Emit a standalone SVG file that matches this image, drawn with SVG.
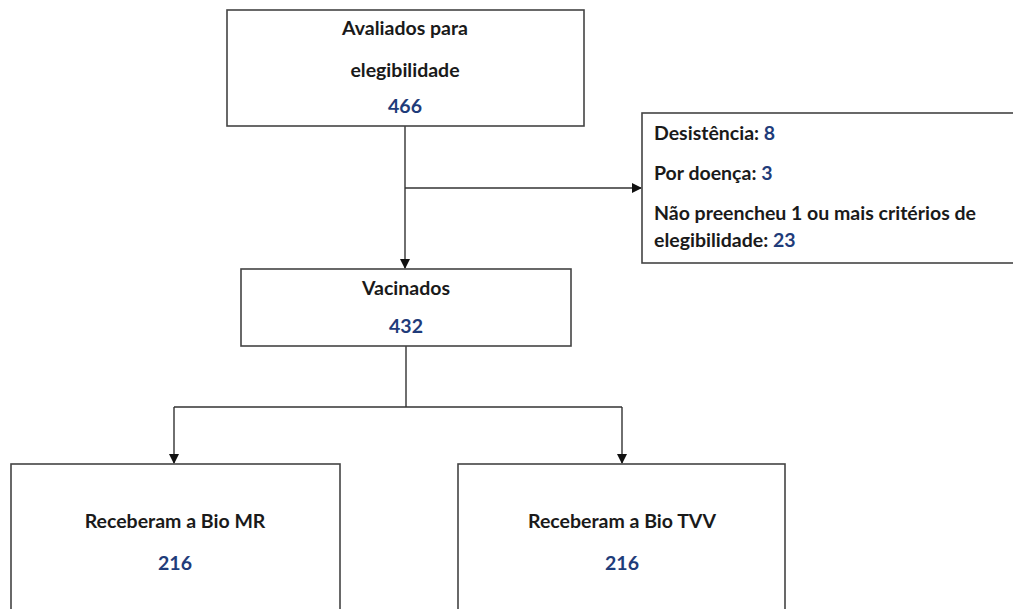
<svg xmlns="http://www.w3.org/2000/svg" width="1013" height="609" viewBox="0 0 1013 609">
<style>
.box{fill:#fff;stroke:#444;stroke-width:1.6}
.t{font-family:Lato,"Open Sans","Liberation Sans",sans-serif;font-weight:bold;font-size:19.5px;fill:#1a1a1a}
.c{text-anchor:middle}
.n{fill:#1f3c7a}
.ln{fill:none;stroke:#333;stroke-width:1.4}
</style>
<defs>
<marker id="ah" markerWidth="10" markerHeight="10" refX="9" refY="5" orient="auto" markerUnits="userSpaceOnUse">
<path d="M0,0 L10,5 L0,10 z" fill="#111"/>
</marker>
</defs>
<rect width="1013" height="609" fill="#fff"/>
<g id="connectors">
<path class="ln" d="M405,126 V268" marker-end="url(#ah)"/>
<path class="ln" d="M405,188 H641" marker-end="url(#ah)"/>
<path class="ln" d="M406,346 V407 M174,407 H622"/>
<path class="ln" d="M174,407 V463" marker-end="url(#ah)"/>
<path class="ln" d="M622,407 V463" marker-end="url(#ah)"/>
</g>
<g id="n1">
<rect class="box" x="227" y="10" width="357" height="116"/>
<text class="t c" x="405" y="35">Avaliados para</text>
<text class="t c" x="405" y="77">elegibilidade</text>
<text class="t c n" x="405" y="113">466</text>
</g>
<g id="n2">
<rect class="box" x="642" y="113" width="380" height="150"/>
<text class="t" x="654" y="140">Desistência: <tspan class="n">8</tspan></text>
<text class="t" x="654" y="180">Por doença: <tspan class="n">3</tspan></text>
<text class="t" x="654" y="220">Não preencheu 1 ou mais critérios de</text>
<text class="t" x="654" y="247">elegibilidade: <tspan class="n">23</tspan></text>
</g>
<g id="n3">
<rect class="box" x="241" y="269" width="330" height="77"/>
<text class="t c" x="406" y="295">Vacinados</text>
<text class="t c n" x="406" y="333">432</text>
</g>
<g id="n4">
<rect class="box" x="11" y="464" width="329" height="160"/>
<text class="t c" x="175" y="528">Receberam a Bio MR</text>
<text class="t c n" x="175" y="570">216</text>
</g>
<g id="n5">
<rect class="box" x="458" y="464" width="327" height="160"/>
<text class="t c" x="622" y="528">Receberam a Bio TVV</text>
<text class="t c n" x="622" y="570">216</text>
</g>
</svg>
